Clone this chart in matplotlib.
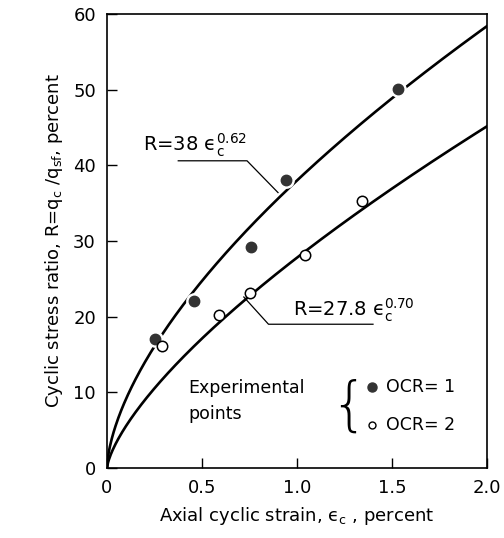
import numpy as np
import matplotlib
matplotlib.use("Agg")
import matplotlib.pyplot as plt

# Data
ocr1_strain = [0.25, 0.46, 0.76, 0.94, 1.53]
ocr1_ratio = [17.0, 22.1, 29.2, 38.0, 50.1]
ocr2_strain = [0.29, 0.59, 0.75, 1.04, 1.34]
ocr2_ratio = [16.1, 20.2, 23.1, 28.1, 35.3]

# Fitted curves R = a * eps^b as printed on the chart
fit_coef = [38.0, 27.8]
fit_exp = [0.62, 0.70]

x_ticks = [0, 0.5, 1.0, 1.5, 2.0]
x_tick_labels = ["0", "0.5", "1.0", "1.5", "2.0"]
y_ticks = [0, 10, 20, 30, 40, 50, 60]

plt.rcParams["font.family"] = ["DejaVu Sans"]
plt.rcParams["mathtext.fontset"] = "dejavusans"

EPS = "\u03f5"

fig = plt.figure(figsize=(5.04, 5.38), dpi=100)
ax = fig.add_axes([107 / 504, 70 / 538, 380 / 504, 454 / 538])

eps = np.linspace(0, 2.0, 400)
for a, b in zip(fit_coef, fit_exp):
    ax.plot(eps, a * eps ** b, color="black", lw=1.9, zorder=2)

# filled points with a white halo to break the curve
ax.plot(ocr1_strain, ocr1_ratio, "o", ms=11, color="white", zorder=3)
ax.plot(ocr1_strain, ocr1_ratio, "o", ms=7.5, color="#333333", mec="#333333", zorder=4)
ax.plot(ocr2_strain, ocr2_ratio, "o", ms=7.5, mfc="white", mec="black", mew=1.1, zorder=4)

# leader lines and equation labels
ax.plot([0.375, 0.737, 0.90], [40.6, 40.6, 36.4], color="black", lw=0.9)
ax.text(0.19, 41.8, "R=38 " + EPS + r"$_\mathregular{c}^\mathregular{0.62}$", fontsize=14)
ax.plot([0.72, 0.85, 1.40], [22.6, 19.0, 19.0], color="black", lw=0.9)
ax.text(0.98, 20.0, "R=27.8 " + EPS + r"$_\mathregular{c}^\mathregular{0.70}$", fontsize=14)

# legend drawn by hand
ax.text(0.43, 10.6, "Experimental", fontsize=12.5, va="center")
ax.text(0.43, 7.2, "points", fontsize=12.5, va="center")
ax.text(1.37, 8.0, "{", fontsize=42, va="center", ha="right", fontweight="ultralight")
ax.plot([1.395], [10.7], "o", ms=6.5, color="#333333")
ax.plot([1.395], [5.7], "o", ms=5, mfc="white", mec="black", mew=1.0)
ax.text(1.47, 10.7, "OCR= 1", fontsize=12.5, va="center")
ax.text(1.47, 5.7, "OCR= 2", fontsize=12.5, va="center")

ax.set_xlim(0, 2.0)
ax.set_ylim(0, 60)
ax.set_xticks(x_ticks)
ax.set_xticklabels(x_tick_labels)
ax.set_yticks(y_ticks)
ax.tick_params(direction="in", length=7, width=1.0, labelsize=13, pad=8)
for s in ax.spines.values():
    s.set_linewidth(1.2)

ax.set_xlabel("Axial cyclic strain, " + EPS + r"$_\mathregular{c}$ , percent", fontsize=13, labelpad=6)
ax.set_ylabel(r"Cyclic stress ratio, R=q$_\mathregular{c}$ /q$_\mathregular{sf}$, percent",
              fontsize=13, labelpad=6)

fig.savefig("out.png", dpi=100)
